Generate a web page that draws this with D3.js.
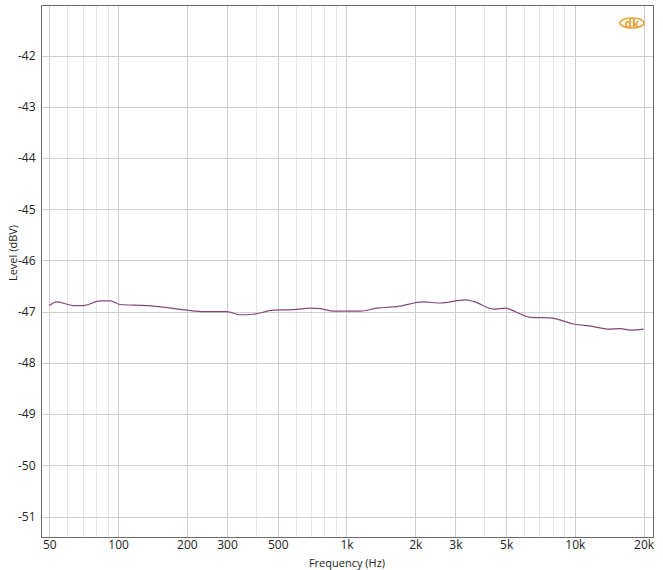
<!DOCTYPE html>
<html><head><meta charset="utf-8">
<script src="https://cdn.jsdelivr.net/npm/d3@7"></script>
<style>body{margin:0;background:#fff}svg{display:block}text{font-family:"Open Sans","Noto Sans",sans-serif;fill:#222}</style>
</head><body><svg id="c" width="663" height="570"></svg>
<script>
const freqs = [50,54,63.7,70.4,83.6,92.5,102,134,164,200,236,300,343,391,479,586,695,769,877,941,1151,1362,1667,2175,2580,3318,3597,4404,4970,5227,6395,7822,9862,12070,13900,15850,17530,20000];
const levels = [-46.88,-46.81,-46.88,-46.88,-46.79,-46.79,-46.86,-46.88,-46.92,-46.97,-47.0,-47.0,-47.06,-47.05,-46.97,-46.96,-46.93,-46.94,-46.99,-46.99,-46.99,-46.93,-46.90,-46.81,-46.83,-46.77,-46.80,-46.95,-46.93,-46.96,-47.11,-47.12,-47.24,-47.29,-47.34,-47.33,-47.36,-47.34];
const xTicks = [50,100,200,300,500,1000,2000,3000,5000,10000,20000];
const xTickLabels = ["50","100","200","300","500","1k","2k","3k","5k","10k","20k"];
const xMinor = [60,70,80,90,400,600,700,800,900,4000,6000,7000,8000,9000];
const yTicks = [-51,-50,-49,-48,-47,-46,-45,-44,-43,-42];

const svg = d3.select("#c");
const L=41.5, R=653.5, T=5.5, B=537.5;
const x = d3.scaleLog().domain([46.2,22100]).range([L,R]);
const y = d3.scaleLinear().domain([-51.41,-41.02]).range([B,T]);

const g = svg.append("g");
g.selectAll(".mn").data(xMinor).join("line")
 .attr("x1",d=>Math.round(x(d))+0.5).attr("x2",d=>Math.round(x(d))+0.5).attr("y1",T).attr("y2",B)
 .attr("stroke","#e8e8e8");
g.selectAll(".mj").data(xTicks).join("line")
 .attr("x1",d=>Math.round(x(d))+0.5).attr("x2",d=>Math.round(x(d))+0.5).attr("y1",T).attr("y2",B)
 .attr("stroke","#cfcfcf");
g.selectAll(".hy").data(yTicks).join("line")
 .attr("y1",d=>Math.round(y(d))+0.5).attr("y2",d=>Math.round(y(d))+0.5).attr("x1",L).attr("x2",R)
 .attr("stroke","#cfcfcf");

svg.append("rect").attr("x",L).attr("y",T).attr("width",R-L).attr("height",B-T)
 .attr("fill","none").attr("stroke","#6a6a6a");

const xa = d3.axisBottom(x).tickValues(xTicks).tickFormat((d,i)=>xTickLabels[i]).tickSize(0).tickPadding(3);
svg.append("g").attr("transform",`translate(0,${B})`).call(xa)
 .call(s=>s.select(".domain").remove())
 .selectAll("text").attr("font-size",12).attr("fill","#222").attr("font-family","Open Sans");
const ya = d3.axisLeft(y).tickValues(yTicks).tickFormat(d=>d).tickSize(0).tickPadding(5);
svg.append("g").attr("transform",`translate(${L-1},0)`).call(ya)
 .call(s=>s.select(".domain").remove())
 .selectAll("text").attr("font-size",12).attr("fill","#222").attr("font-family","Open Sans");

const line = d3.line().x((d,i)=>x(freqs[i])).y(d=>y(d)).curve(d3.curveMonotoneX);
svg.append("path").datum(levels).attr("d",line).attr("fill","none")
 .attr("stroke","#88457a").attr("stroke-width",1.2);

svg.append("text").attr("x",347).attr("y",567).attr("text-anchor","middle").attr("font-size",11).text("Frequency (Hz)");
svg.append("text").attr("transform","translate(17,253) rotate(-90)").attr("text-anchor","middle").attr("font-size",11).text("Level  (dBV)");

const lg = svg.append("g").attr("transform","translate(632,23)");
lg.append("ellipse").attr("rx",12).attr("ry",5).attr("fill","none").attr("stroke","#e8a030").attr("stroke-width",1.6);
lg.append("text").attr("y",4.5).attr("text-anchor","middle").attr("font-size",12).attr("font-weight","bold")
 .style("fill","#e8a030").text("dk");
</script></body></html>
